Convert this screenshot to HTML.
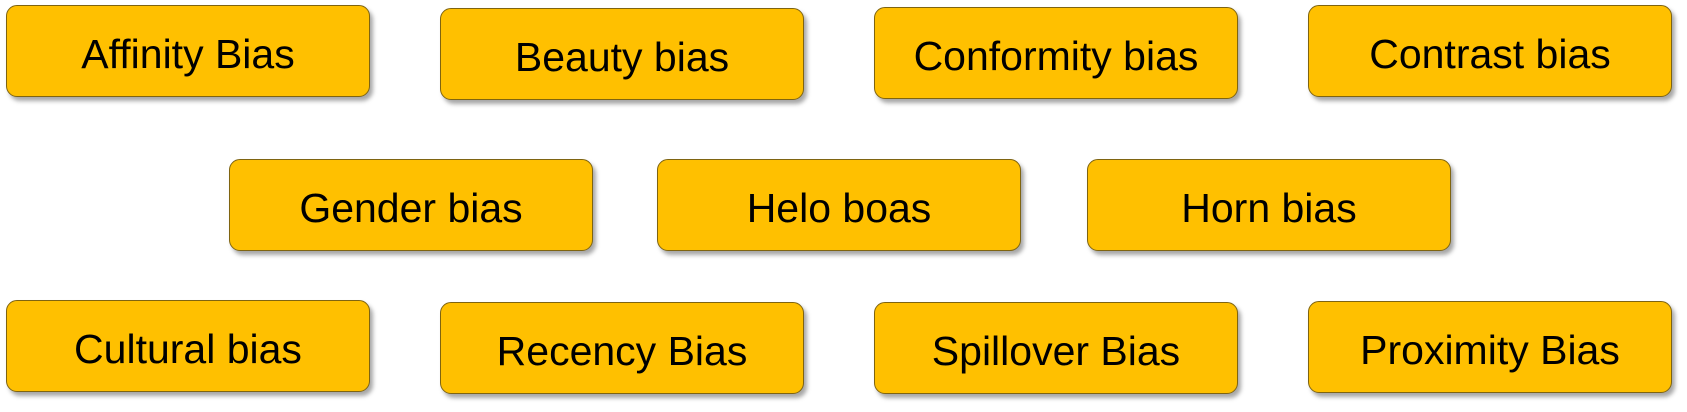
<!DOCTYPE html>
<html><head><meta charset="utf-8"><style>
html,body{margin:0;padding:0;background:#fff;}
body{width:1687px;height:412px;position:relative;overflow:hidden;}
.b{position:absolute;width:364px;height:92px;background:#FFC000;border:1.5px solid #7f6410;border-radius:11px;box-shadow:3px 4px 4px rgba(0,0,0,0.35);display:flex;align-items:center;justify-content:center;font-family:"Liberation Sans",sans-serif;font-size:41px;color:#000;box-sizing:border-box;padding-top:6px;}
</style></head><body>
<div class="b" style="left:6px;top:5px">Affinity Bias</div>
<div class="b" style="left:440px;top:8px">Beauty bias</div>
<div class="b" style="left:874px;top:7px">Conformity bias</div>
<div class="b" style="left:1308px;top:5px">Contrast bias</div>
<div class="b" style="left:229px;top:159px">Gender bias</div>
<div class="b" style="left:657px;top:159px">Helo boas</div>
<div class="b" style="left:1087px;top:159px">Horn bias</div>
<div class="b" style="left:6px;top:300px">Cultural bias</div>
<div class="b" style="left:440px;top:302px">Recency Bias</div>
<div class="b" style="left:874px;top:302px">Spillover Bias</div>
<div class="b" style="left:1308px;top:301px">Proximity Bias</div>
</body></html>
